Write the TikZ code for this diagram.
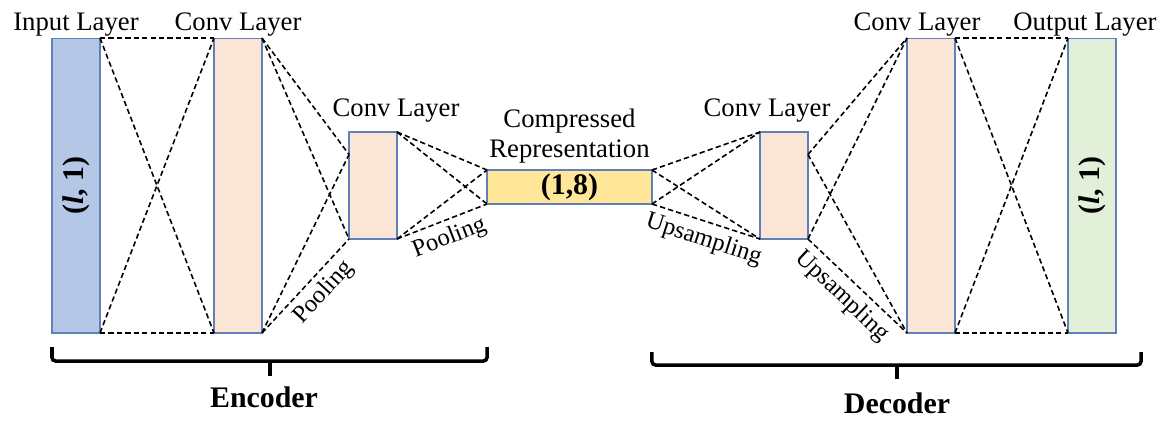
\documentclass[tikz,border=0pt]{standalone}
\usepackage{fontspec}
\setmainfont{Liberation Serif}
\usetikzlibrary{calc}
\definecolor{inblue}{RGB}{180,199,231}
\definecolor{convpink}{RGB}{251,229,214}
\definecolor{codeyellow}{RGB}{255,230,153}
\definecolor{outgreen}{RGB}{226,240,217}
\definecolor{edgeblue}{RGB}{96,128,186}

\begin{document}
\begin{tikzpicture}[x=0.02cm,y=-0.02cm]
            \tikzstyle{layer}=[rectangle,draw=edgeblue,line width=0.6pt,outer sep=0pt,inner sep=0pt,minimum width=0.96cm]
            \tikzstyle{tall}=[layer,minimum height=5.9cm]
            \tikzstyle{short}=[layer,minimum height=2.14cm]
            \tikzstyle{title}=[font=\fontsize{15.2}{17}\selectfont,inner sep=1pt,anchor=south]
            \tikzstyle{big}=[font=\fontsize{17}{20}\selectfont\bfseries]
            \tikzset{link/.style = {dash pattern=on 3pt off 1.8pt,line width=0.9pt}}
            \tikzset{tag/.style = {font=\fontsize{14}{16}\selectfont,sloped,below,inner sep=3.5pt}}
            \tikzset{brace/.style = {line width=2pt,rounded corners=2pt}}
            \useasboundingbox (0,0) rectangle (1173,420);
            \node[tall,fill=inblue] (in) at (76,185.5) {};
            \node[tall,fill=convpink] (c1) at (238,185.5) {};
            \node[short,fill=convpink] (c2) at (373,185.5) {};
            \node[layer,fill=codeyellow,minimum width=3.3cm,minimum height=0.68cm] (cr) at (569.5,187) {};
            \node[short,fill=convpink] (c3) at (784,185.5) {};
            \node[tall,fill=convpink] (c4) at (931,185.5) {};
            \node[tall,fill=outgreen] (out) at (1092,185.5) {};
            \node[big,rotate=90] (inval) at (in) {(\textit{l}, 1)};
            \node[big] (crval) at (cr) {(1,8)};
            \node[big,rotate=90] (outval) at (out) {(\textit{l}, 1)};
            \node[title] (intitle) at (in.north) {Input Layer};
            \node[title] (c1title) at (c1.north) {Conv Layer};
            \node[title] (c2title) at ($(c2.north)+(23,-8)$) {Conv Layer};
            \node[title,align=center] (crtitle) at ($(cr.north)+(0,-5)$) {Compressed\\Representation};
            \node[title] (c3title) at ($(c3.north)+(-17,-8)$) {Conv Layer};
            \node[title] (c4title) at ($(c4.north)+(-14,0)$) {Conv Layer};
            \node[title] (outtitle) at ($(out.north)+(-7,0)$) {Output Layer};
            \coordinate (c2a) at ($(c2.north west)!0.21!(c2.south west)$);
            \coordinate (c3a) at ($(c3.north east)!0.21!(c3.south east)$);
            \draw[link] (in.north east) -- (c1.north west);
            \draw[link] (in.south east) -- (c1.south west);
            \draw[link] (in.north east) -- (c1.south west);
            \draw[link] (in.south east) -- (c1.north west);
            \draw[link] (c1.north east) -- (c2a);
            \draw[link] (c1.north east) -- (c2.south west);
            \draw[link] (c1.south east) -- (c2a);
            \draw[link] (c1.south east) -- node[tag,pos=0.56] {Pooling} (c2.south west);
            \draw[link] (c2.north east) -- (cr.north west);
            \draw[link] (c2.north east) -- (cr.south west);
            \draw[link] (c2.south east) -- (cr.north west);
            \draw[link] (c2.south east) -- node[tag,pos=0.51] {Pooling} (cr.south west);
            \draw[link] (cr.north east) -- (c3.north west);
            \draw[link] (cr.north east) -- (c3.south west);
            \draw[link] (cr.south east) -- (c3.north west);
            \draw[link] (cr.south east) -- node[tag,pos=0.53] {Upsampling} (c3.south west);
            \draw[link] (c3a) -- (c4.north west);
            \draw[link] (c3a) -- (c4.south west);
            \draw[link] (c3.south east) -- (c4.north west);
            \draw[link] (c3.south east) -- node[tag,pos=0.47] {Upsampling} (c4.south west);
            \draw[link] (c4.north east) -- (out.north west);
            \draw[link] (c4.south east) -- (out.south west);
            \draw[link] (c4.north east) -- (out.south west);
            \draw[link] (c4.south east) -- (out.north west);
            \draw[brace] (in.south west |- 0,347) -- (in.south west |- 0,361) -- (cr.west |- 0,361) -- (cr.west |- 0,347);
            \draw[brace] (270,361) -- (270,376);
            \draw[brace] (cr.east |- 0,352) -- (cr.east |- 0,365) -- (1141,365) -- (1141,352);
            \draw[brace] (897,365) -- (897,379);
            \node[big,anchor=base] (enc) at (264,407) {Encoder};
            \node[big,anchor=base] (dec) at (897,413) {Decoder};
        \end{tikzpicture}
\end{document}
